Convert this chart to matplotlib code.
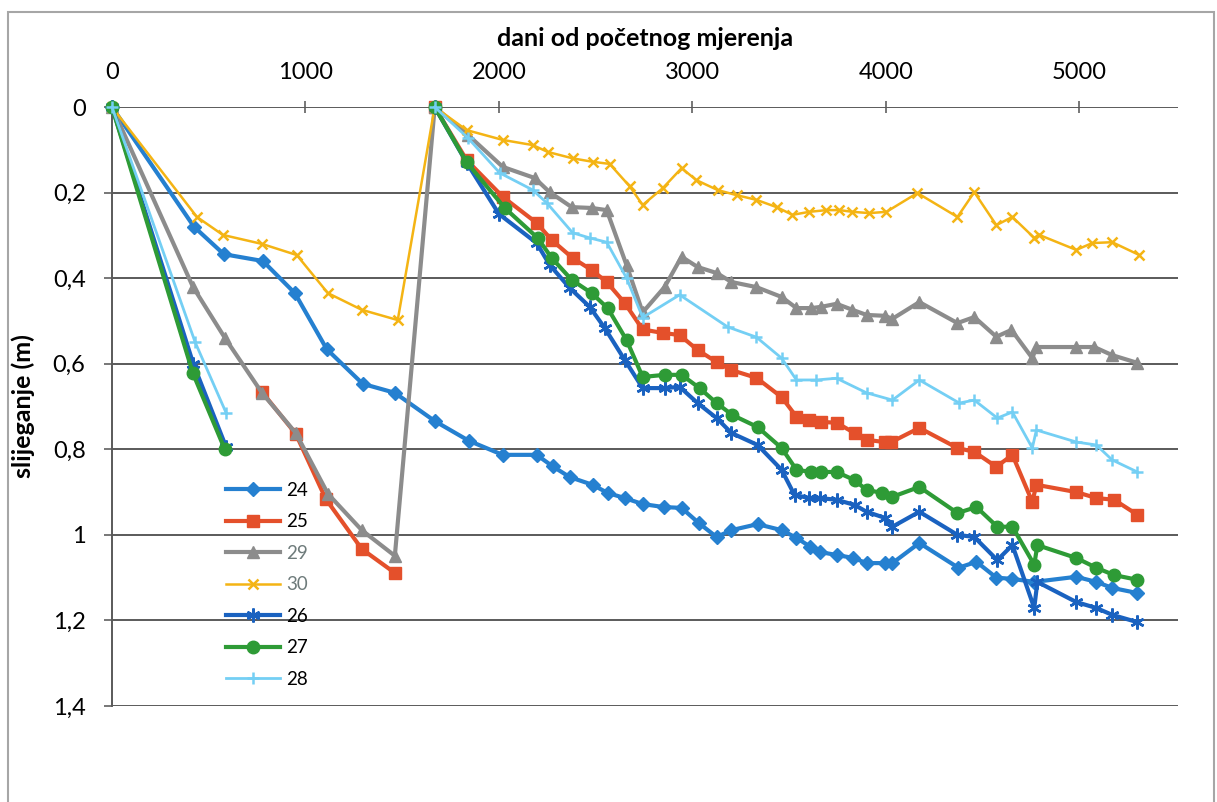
import matplotlib

matplotlib.use("Agg")
import matplotlib.pyplot as plt  # noqa: E402
import numpy as np  # noqa: E402
from matplotlib.patches import Rectangle  # noqa: E402
from matplotlib.ticker import FuncFormatter  # noqa: E402

nan = np.nan

# days since first measurement / settlement (m); nan = gap between campaigns
days_24 = [0, 424, 578, 780, 945, 1110, 1296, 1462, 1668, 1844, 2019, 2195, 2278, 2366,
           2484, 2562, 2650, 2743, 2851, 2944, 3032, 3125, 3202, 3337, 3461, 3538, 3610,
           3657, 3745, 3832, 3900, 3993, 4034, 4173, 4375, 4468, 4571, 4654, 4767, 4984,
           5088, 5170, 5300]
sl_24 = [0, 0.28, 0.344, 0.36, 0.435, 0.566, 0.647, 0.668, 0.734, 0.78, 0.813, 0.813, 0.84,
         0.865, 0.883, 0.902, 0.914, 0.928, 0.935, 0.937, 0.972, 1.005, 0.989, 0.975, 0.989,
         1.007, 1.028, 1.04, 1.047, 1.054, 1.066, 1.066, 1.066, 1.019, 1.077, 1.063, 1.10,
         1.103, 1.11, 1.098, 1.11, 1.124, 1.136]

days_25 = [775, 950, 1105, 1291, 1462, nan, 1668, 1833, 2020, 2195, 2273, 2381, 2479, 2557,
           2650, 2743, 2846, 2934, 3027, 3125, 3202, 3331, 3461, 3538, 3605, 3667, 3745,
           3838, 3900, 3993, 4029, 4173, 4370, 4457, 4571, 4654, 4757, 4778, 4984, 5088,
           5180, 5300]
sl_25 = [0.666, 0.764, 0.916, 1.033, 1.089, nan, 0, 0.124, 0.21, 0.271, 0.311, 0.353, 0.381,
         0.409, 0.458, 0.52, 0.528, 0.533, 0.568, 0.596, 0.615, 0.633, 0.678, 0.724, 0.732,
         0.736, 0.738, 0.762, 0.778, 0.783, 0.783, 0.75, 0.797, 0.806, 0.841, 0.813, 0.923,
         0.883, 0.90, 0.914, 0.918, 0.953]

days_29 = [0, 418, 584, 775, 950, 1116, 1291, 1462, 1668, 1839, 2020, 2185, 2262, 2376,
           2479, 2557, 2660, 2743, 2856, 2944, 3027, 3125, 3202, 3331, 3461, 3538, 3615,
           3667, 3745, 3827, 3900, 3993, 4034, 4173, 4370, 4457, 4571, 4649, 4757, 4778,
           4984, 5077, 5170, 5300]
sl_29 = [0, 0.42, 0.54, 0.668, 0.762, 0.904, 0.989, 1.049, 0, 0.065, 0.14, 0.166, 0.199,
         0.234, 0.236, 0.241, 0.37, 0.48, 0.421, 0.35, 0.374, 0.388, 0.409, 0.421, 0.444,
         0.47, 0.47, 0.467, 0.46, 0.474, 0.486, 0.488, 0.495, 0.456, 0.505, 0.491, 0.537,
         0.521, 0.587, 0.561, 0.561, 0.561, 0.58, 0.598]

days_30 = [0, 439, 573, 775, 955, 1116, 1291, 1477, 1668, 1833, 2020, 2175, 2252, 2381,
           2484, 2572, 2675, 2743, 2846, 2944, 3021, 3130, 3228, 3331, 3435, 3517, 3605,
           3693, 3760, 3827, 3915, 4003, 4163, 4370, 4457, 4571, 4654, 4767, 4793, 4984,
           5067, 5170, 5310]
sl_30 = [0, 0.257, 0.299, 0.32, 0.346, 0.435, 0.474, 0.498, 0, 0.054, 0.077, 0.089, 0.105,
         0.12, 0.128, 0.133, 0.185, 0.229, 0.19, 0.143, 0.171, 0.194, 0.206, 0.217, 0.234,
         0.252, 0.245, 0.241, 0.241, 0.245, 0.248, 0.245, 0.201, 0.257, 0.199, 0.276, 0.257,
         0.306, 0.299, 0.334, 0.318, 0.316, 0.346]

days_26 = [0, 420, 590, nan, 1668, 1833, 2000, 2195, 2262, 2366, 2469, 2546, 2650, 2743,
           2856, 2934, 3027, 3125, 3202, 3337, 3461, 3528, 3605, 3657, 3745, 3838, 3900,
           3993, 4034, 4173, 4370, 4457, 4576, 4654, 4767, 4783, 4984, 5088, 5170, 5300]
sl_26 = [0, 0.60, 0.795, nan, 0, 0.13, 0.25, 0.318, 0.369, 0.423, 0.467, 0.516, 0.591,
         0.657, 0.657, 0.654, 0.692, 0.727, 0.762, 0.79, 0.848, 0.907, 0.914, 0.914, 0.918,
         0.93, 0.946, 0.96, 0.981, 0.946, 1.0, 1.005, 1.059, 1.024, 1.171, 1.11, 1.157,
         1.171, 1.187, 1.204]

days_27 = [0, 418, 583, nan, 1668, 1833, 2030, 2200, 2273, 2376, 2479, 2562, 2660, 2743,
           2856, 2944, 3037, 3125, 3207, 3337, 3461, 3538, 3615, 3667, 3745, 3838, 3900,
           3982, 4034, 4173, 4370, 4468, 4576, 4654, 4767, 4783, 4984, 5088, 5180, 5300]
sl_27 = [0, 0.622, 0.80, nan, 0, 0.129, 0.236, 0.306, 0.353, 0.404, 0.435, 0.47, 0.545,
         0.631, 0.626, 0.626, 0.657, 0.692, 0.72, 0.748, 0.797, 0.848, 0.853, 0.853, 0.853,
         0.872, 0.895, 0.902, 0.911, 0.888, 0.949, 0.935, 0.981, 0.981, 1.07, 1.024, 1.054,
         1.077, 1.094, 1.105]

days_28 = [0, 430, 590, nan, 1668, 1839, 2004, 2175, 2247, 2381, 2469, 2557, 2660, 2743,
           2934, 3182, 3331, 3461, 3538, 3641, 3745, 3900, 4034, 4173, 4380, 4457, 4576,
           4654, 4757, 4778, 4984, 5088, 5170, 5300]
sl_28 = [0, 0.55, 0.715, nan, 0, 0.072, 0.154, 0.194, 0.224, 0.294, 0.306, 0.316, 0.40,
         0.492, 0.439, 0.514, 0.538, 0.587, 0.638, 0.638, 0.634, 0.668, 0.685, 0.638, 0.692,
         0.685, 0.727, 0.713, 0.797, 0.755, 0.783, 0.79, 0.825, 0.853]

x_ticks = [0, 1000, 2000, 3000, 4000, 5000]
y_ticks = [0, 0.2, 0.4, 0.6, 0.8, 1.0, 1.2, 1.4]

# label, x, y, color, marker, markersize, linewidth
series = [
    ("24", days_24, sl_24, "#2580D0", "D", 7, 3.0),
    ("25", days_25, sl_25, "#E4502B", "s", 9, 3.0),
    ("29", days_29, sl_29, "#8C8C8C", "^", 9, 3.0),
    ("30", days_30, sl_30, "#F4B414", "x", 7, 1.8),
    ("26", days_26, sl_26, "#1A62C0", (6, 2, 0), 10, 3.0),
    ("27", days_27, sl_27, "#2E9B36", "o", 9, 3.0),
    ("28", days_28, sl_28, "#74CFF4", "+", 8, 2.0),
]

plt.rcParams["font.family"] = ["Lato", "DejaVu Sans"]

fig = plt.figure(figsize=(12.17, 8.02), dpi=100)
ax = fig.add_axes([112 / 1217, 1 - 706 / 802, (1178 - 112) / 1217, (706 - 107) / 802])

for label, x, y, color, marker, ms, lw in series:
    thin = marker in ("x", "+", (6, 2, 0))
    ax.plot(x, y, color=color, lw=lw, marker=marker, ms=ms,
            mec=color, mfc=color, mew=1.8 if thin else 1.0, label=label,
            solid_joinstyle="round", clip_on=False, zorder=3)

ax.set_xlim(0, 5510)
ax.set_ylim(1.4, 0)
ax.set_xticks(x_ticks)
ax.set_yticks(y_ticks)
ax.yaxis.set_major_formatter(FuncFormatter(lambda v, _: f"{v:g}".replace(".", ",")))

ax.xaxis.tick_top()
ax.xaxis.set_label_position("top")
ax.tick_params(axis="x", direction="inout", length=9, width=1.2, color="#606060",
               labelsize=17, pad=13)
ax.tick_params(axis="y", direction="out", length=6, width=1.2, color="#606060",
               labelsize=17, pad=13)
ax.set_xlabel("dani od početnog mjerenja", fontsize=18, fontweight="bold", labelpad=11)
ax.set_ylabel("slijeganje (m)", fontsize=18, fontweight="bold", labelpad=13)

ax.yaxis.grid(True, color="#5a5a5a", lw=1.4)
ax.set_axisbelow(True)
for side in ("top", "right", "bottom"):
    ax.spines[side].set_visible(False)
ax.spines["left"].set_color("#5a5a5a")
ax.spines["left"].set_linewidth(1.4)

leg = ax.legend(loc="upper left", bbox_to_anchor=(226 / 1217, 1 - 482 / 802),
                bbox_transform=fig.transFigure, frameon=False, fontsize=13.5,
                handlelength=2.9, handletextpad=0.3, labelspacing=0.77,
                borderpad=0, borderaxespad=0)
for txt in leg.get_texts():
    if txt.get_text() in ("29", "30"):
        txt.set_color("#6E7B7B")

fig.patches.append(Rectangle((8 / 1217, -0.01), 1206 / 1217, 1 - 12 / 802 + 0.01,
                             transform=fig.transFigure, fill=False,
                             edgecolor="#a6a6a6", lw=1.5))

fig.savefig("out.png", dpi=100)
